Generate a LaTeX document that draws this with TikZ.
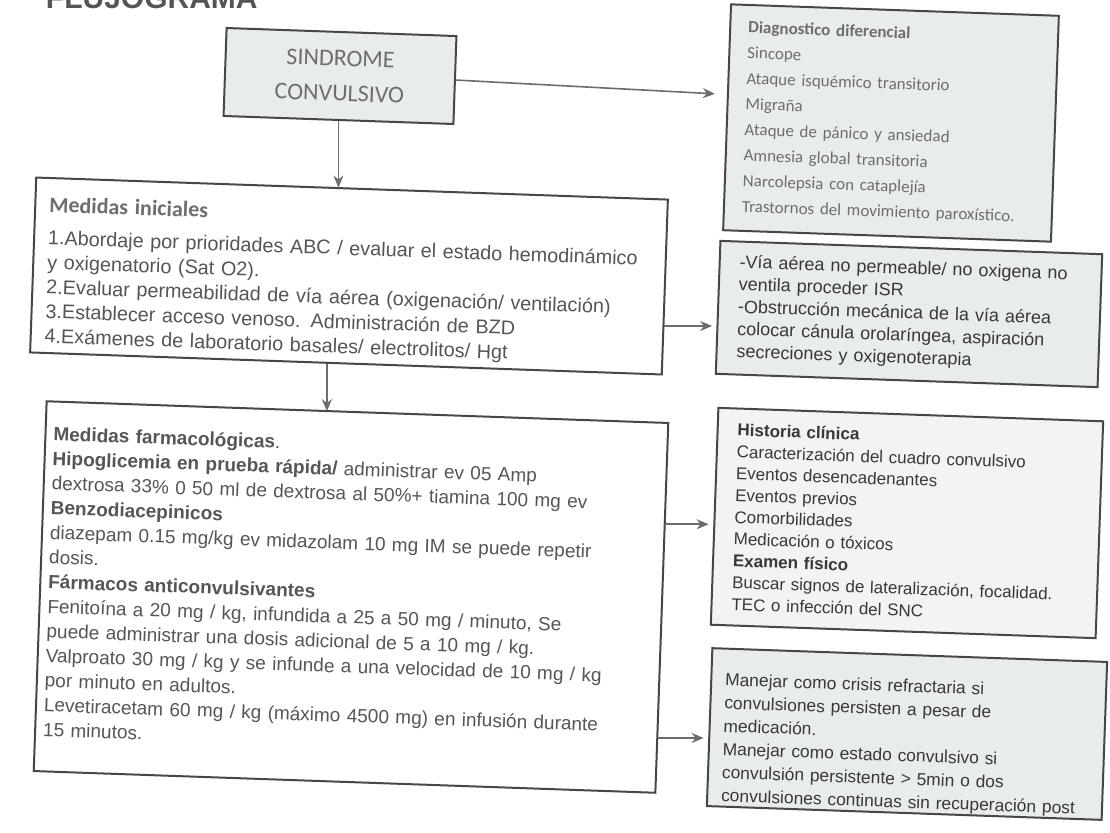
\documentclass[tikz,border=0pt]{standalone}
\usepackage{fontspec}
\setmainfont{Liberation Sans}
\newfontfamily\calibri{Carlito}
\usetikzlibrary{arrows.meta, positioning, calc}
\definecolor{fondo}{HTML}{E8EDEB}
\definecolor{borde}{HTML}{474747}
\definecolor{gristxt}{HTML}{6E6E6E}
\definecolor{medtxt}{HTML}{555555}
\definecolor{oscuro}{HTML}{383838}

\begin{document}
\begin{tikzpicture}[x=0.5pt, y=0.5pt,
    caja/.style={draw=borde, line width=1pt, rotate=-2, align=left, inner ysep=0pt},
    flecha/.style={->, draw=gray!85!black, line width=0.8pt, shorten >=2.5pt},
    >={Stealth[length=6pt, width=5pt]}
]
\useasboundingbox (0,0) rectangle (1110,-832);

% titulo cortado arriba
\node[anchor=base east, inner sep=0pt, text=medtxt, font=\bfseries\fontsize{15}{15}\selectfont] (titulo) at (258,-8) {FLUJOGRAMA};

\node[caja, fill=fondo, minimum width=115pt, minimum height=44pt, align=center, text=gristxt,
      font=\calibri\fontsize{12}{17.5}\selectfont] (sindrome) at (340,-76) {SINDROME\\CONVULSIVO};

\node[caja, fill=fondo, minimum height=113pt, inner xsep=9pt, text width=146pt, text=gristxt,
      font=\calibri\fontsize{8.5}{12.8}\selectfont] (diag) at (891,-123)
    {\textbf{Diagnostico diferencial}\\
     Sincope\\
     Ataque isquémico transitorio\\
     Migraña\\
     Ataque de pánico y ansiedad\\
     Amnesia global transitoria\\
     Narcolepsia con cataplejía\\
     Trastornos del movimiento paroxístico.};

\node[caja, fill=white, minimum height=87.5pt, inner xsep=7pt, text width=302pt, text=medtxt,
      text height=17pt, text depth=70.5pt,
      font=\fontsize{9.9}{12.3}\selectfont] (inic) at (349,-276)
    {{\calibri\bfseries\color{gristxt}\fontsize{11}{12}\selectfont Medidas iniciales}\\[4pt]
     1.Abordaje por prioridades ABC / evaluar el estado hemodinámico\\
     y oxigenatorio (Sat O2).\\
     2.Evaluar permeabilidad de vía aérea (oxigenación/ ventilación)\\
     3.Establecer acceso venoso. Administración de BZD\\
     4.Exámenes de laboratorio basales/ electrolitos/ Hgt};

\node[caja, fill=fondo, minimum height=66.5pt, inner xsep=10pt, text width=171pt, text=oscuro,
      font=\fontsize{9}{11.2}\selectfont] (via) at (909,-314)
    {-Vía aérea no permeable/ no oxigena no\\
     ventila proceder ISR\\
     -Obstrucción mecánica de la vía aérea\\
     colocar cánula orolaríngea, aspiración\\
     secreciones y oxigenoterapia};

\node[caja, fill=white, minimum height=185pt, inner xsep=4pt, text width=303pt, text=oscuro!85,
      text height=19.5pt, text depth=165.5pt,
      font=\fontsize{9.5}{12.33}\selectfont] (farm) at (351,-597)
    {\textbf{Medidas farmacológicas}.\\
     \textbf{Hipoglicemia en prueba rápida/} administrar ev 05 Amp\\
     dextrosa 33\% 0 50 ml de dextrosa al 50\%+ tiamina 100 mg ev\\
     \textbf{Benzodiacepinicos}\\
     diazepam 0.15 mg/kg ev midazolam 10 mg IM se puede repetir\\
     dosis.\\
     \textbf{Fármacos anticonvulsivantes}\\
     Fenitoína a 20 mg / kg, infundida a 25 a 50 mg / minuto, Se\\
     puede administrar una dosis adicional de 5 a 10 mg / kg.\\
     Valproato 30 mg / kg y se infunde a una velocidad de 10 mg / kg\\
     por minuto en adultos.\\
     Levetiracetam 60 mg / kg (máximo 4500 mg) en infusión durante\\
     15 minutos.};

\node[caja, fill=fondo!60, minimum height=108.5pt, inner xsep=10pt, text width=172.5pt, text=oscuro,
      font=\fontsize{8.5}{10.9}\selectfont] (hist) at (907,-523)
    {\textbf{Historia clínica}\\
     Caracterización del cuadro convulsivo\\
     Eventos desencadenantes\\
     Eventos previos\\
     Comorbilidades\\
     Medicación o tóxicos\\
     \textbf{Examen físico}\\
     Buscar signos de lateralización, focalidad.\\
     TEC o infección del SNC};

\node[caja, fill=fondo, minimum height=79pt, inner xsep=7pt, text width=183.5pt, text=oscuro,
      text height=18.5pt, text depth=60.5pt,
      font=\fontsize{8.7}{11.6}\selectfont] (manejar) at (907,-734)
    {Manejar como crisis refractaria si\\
     convulsiones persisten a pesar de\\
     medicación.\\
     Manejar como estado convulsivo si\\
     convulsión persistente > 5min o dos\\
     convulsiones continuas sin recuperación post};

% conectores
\draw[flecha, shorten >=6pt] (sindrome.east) -- ($(diag.north west)!0.4!(diag.south west)$);
\draw[flecha, shorten >=0pt] (sindrome.south) -- (sindrome.south |- inic.north);
\draw[flecha] ($(inic.north east)!0.72!(inic.south east)$) coordinate (a1) -- (a1 -| via.west);
\draw[flecha, shorten >=0pt] ($(inic.south west)!0.47!(inic.south east)$) coordinate (a2) -- (a2 |- farm.north);
\draw[flecha] ($(farm.north east)!0.275!(farm.south east)$) coordinate (a3) -- (a3 -| hist.west);
\draw[flecha] ($(farm.north east)!0.85!(farm.south east)$) coordinate (a4) -- (a4 -| manejar.west);
\end{tikzpicture}
\end{document}
